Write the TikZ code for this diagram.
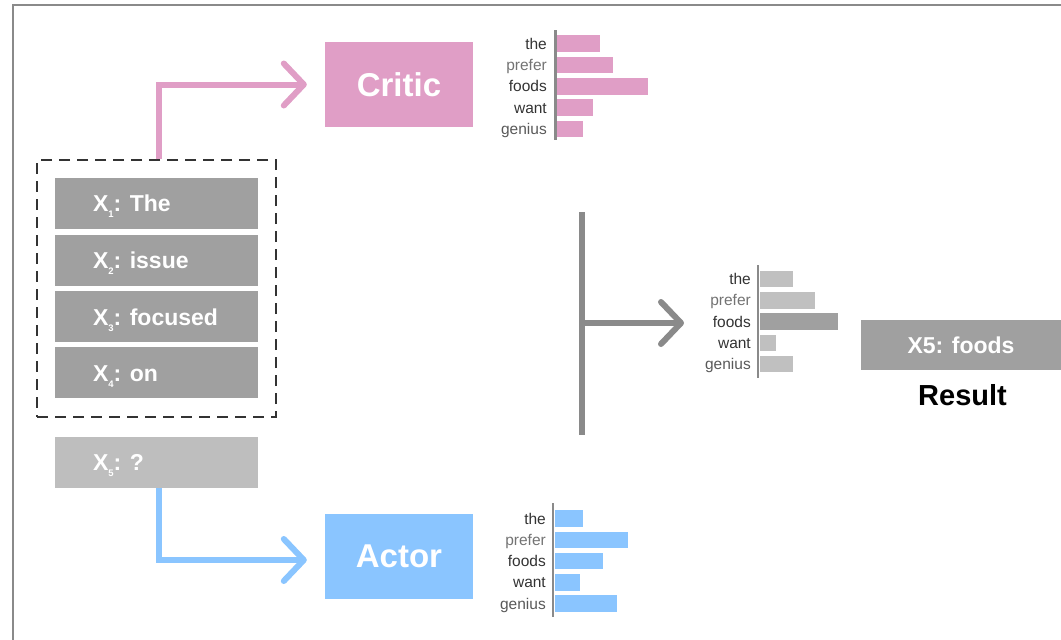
\documentclass[tikz,border=0pt]{standalone}
\usepackage{fontspec}
\setmainfont{Liberation Sans}
\usetikzlibrary{arrows.meta,calc}

\definecolor{critpink}{HTML}{E09EC6}
\definecolor{actblue}{HTML}{8AC5FF}
\definecolor{tokgray}{HTML}{A0A0A0}
\definecolor{qgray}{HTML}{BEBEBE}
\definecolor{linegray}{HTML}{8A8A8A}
\definecolor{barlight}{HTML}{C0C0C0}

% small lowered index after the X of a token
\newcommand\tokidx[1]{\raisebox{-6pt}{\fontsize{9.5}{9.5}\selectfont #1}}

\tikzset{
  tok/.style={fill=tokgray, minimum width=203pt, minimum height=51pt, inner sep=0pt},
  tokq/.style={tok, fill=qgray},
  toktext/.style={anchor=base west, text=white, inner sep=0pt,
                  font=\fontsize{23}{23}\selectfont\bfseries},
  agent/.style={minimum width=148pt, minimum height=85pt, inner sep=0pt, text=white,
                font=\fontsize{33}{33}\selectfont\bfseries},
  flow/.style={line width=6pt, -{Straight Barb[length=20pt,width=42pt,round]}},
  spine/.style={line width=6pt, draw=linegray},
  axisline/.style={draw=linegray, line width=2.8pt},
  word/.style={anchor=base east, inner sep=0pt, font=\fontsize{15.5}{15.5}\selectfont},
}

\begin{document}
\begin{tikzpicture}[x=1pt, y=-1pt]
\useasboundingbox (0,0) rectangle (1061,640);

% outer frame (top and left edges)
\draw[linegray, line width=2.4pt] (13,640) -- (13,5) -- (1061,5);

% input tokens
\node[tok] (x1) at (156.5,203) {};
\node[tok] (x2) at (156.5,260) {};
\node[tok] (x3) at (156.5,316.5) {};
\node[tok] (x4) at (156.5,372.5) {};
\node[tokq] (x5) at (156.5,462) {};
\node[toktext] (t1) at ($(x1.west)+(38,8.5)$) {X\tokidx{1}: The};
\node[toktext] (t2) at ($(x2.west)+(38,8.5)$) {X\tokidx{2}: issue};
\node[toktext] (t3) at ($(x3.west)+(38,8.5)$) {X\tokidx{3}: focused};
\node[toktext] (t4) at ($(x4.west)+(38,8.5)$) {X\tokidx{4}: on};
\node[toktext] (t5) at ($(x5.west)+(38,8.5)$) {X\tokidx{5}: ?};

% context group
\node[draw=black!80, dash pattern=on 11pt off 7pt, line width=1.4pt,
      minimum width=239pt, minimum height=257pt, inner sep=0pt] (ctx) at (156.5,288.5) {};

% critic and actor
\node[agent, fill=critpink] (critic) at (399,84.5) {Critic};
\node[agent, fill=actblue] (actor) at (399,556.5) {Actor};

\draw[flow, draw=critpink, shorten >=18pt] ([xshift=2.5pt]ctx.north) |- (critic.west);
\draw[flow, draw=actblue, shorten >=18pt] ([xshift=2.5pt]x5.south) |- ([yshift=-3.5pt]actor.west);

% critic distribution
\draw[axisline] (555.5,30) -- (555.5,140);
\foreach \w/\e/\c [count=\i from 0] in {the/600/black!80, prefer/613/black!55, foods/648/black!80, want/593/black!80, genius/583/black!65} {
  \pgfmathsetmacro\yy{43.5+21.4*\i}
  \fill[critpink] (557,{\yy-8.25}) rectangle (\e,{\yy+8.25});
  \node[word, text=\c] (crit-\w) at (547,{\yy+5.5}) {\w};
}

% actor distribution
\draw[axisline] (553,503) -- (553,617);
\foreach \w/\e/\c [count=\i from 0] in {the/583/black!80, prefer/628/black!55, foods/603/black!80, want/580/black!80, genius/617/black!65} {
  \pgfmathsetmacro\yy{518.5+21.3*\i}
  \fill[actblue] (555,{\yy-8.25}) rectangle (\e,{\yy+8.25});
  \node[word, text=\c] (act-\w) at (546,{\yy+5.5}) {\w};
}

% combination
\coordinate (spTop) at (582,212);
\coordinate (spBot) at (582,435);
\coordinate (spMid) at (582,323);
\coordinate (midIn) at (684,323);
\draw[spine] (spTop) -- (spBot);
\draw[flow, draw=linegray] (spMid) -- (midIn);

% combined distribution
\draw[axisline] (758,265) -- (758,378);
\foreach \w/\e/\c/\b [count=\i from 0] in {the/793/black!80/barlight, prefer/815/black!55/barlight, foods/838/black!80/tokgray, want/776/black!80/barlight, genius/793/black!65/barlight} {
  \pgfmathsetmacro\yy{279+21.3*\i}
  \fill[\b] (760,{\yy-8.25}) rectangle (\e,{\yy+8.25});
  \node[word, text=\c] (mix-\w) at (751,{\yy+5.5}) {\w};
}

% result
\node[fill=tokgray, minimum width=200pt, minimum height=50pt, inner sep=0pt, text=white,
      font=\fontsize{23}{23}\selectfont\bfseries] (ans) at (961,345) {X5: foods};
\node[font=\fontsize{29}{29}\selectfont\bfseries, inner sep=0pt] (res) at (962.5,395.5) {Result};
\end{tikzpicture}
\end{document}
